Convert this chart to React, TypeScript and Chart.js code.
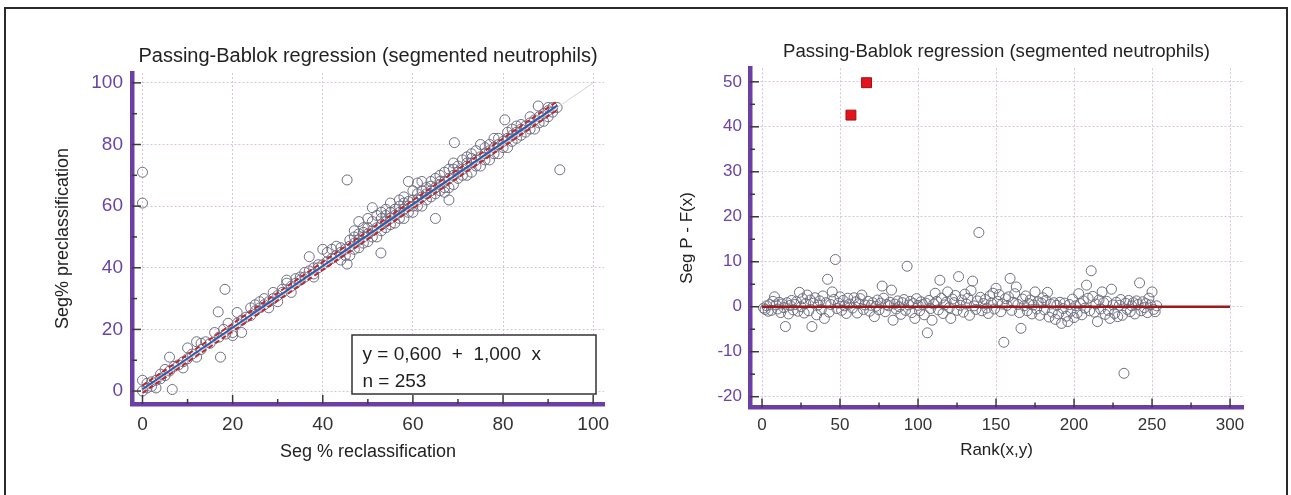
import React, { useEffect, useRef } from 'react';
import { Chart, registerables } from 'chart.js';

Chart.register(...registerables);

const FONT = "'Liberation Sans', Arial, Helvetica, sans-serif";
const PURPLE = '#6b3fa6';
const PURPLE_TEXT = '#6a44a8';
const GRID = '#d9c4d9';

const TITLE = 'Passing-Bablok regression (segmented neutrophils)';
const LEFT_X_TITLE = 'Seg % reclassification';
const LEFT_Y_TITLE = 'Seg% preclassification';
const RIGHT_X_TITLE = 'Rank(x,y)';
const RIGHT_Y_TITLE = 'Seg P - F(x)';
const EQ_LINES = ['y = 0,600  +  1,000  x', 'n = 253'];

// Left panel: reclassification (x) vs preclassification (y)
const segReclass = [
  0, 0, 0, 0, 1, 1, 2, 2, 3, 3,
  4, 4, 5, 5, 6, 6, 6.6, 7, 8, 9,
  9, 10, 10, 11, 12, 12, 13, 13, 14, 15,
  16, 16.8, 17.3, 17, 18.3, 18, 18.5, 19, 20, 20,
  21, 21, 22, 22, 23, 24, 24, 25, 25, 26,
  26, 27, 27, 28, 28, 29, 29, 30, 30, 31,
  31, 32, 32, 33, 33, 34, 34, 35, 35, 36,
  36, 37, 37, 38, 38, 38, 39, 39, 40, 40,
  41, 41, 42, 42, 43, 43, 44, 44, 45.4, 45,
  46, 45.4, 46, 47, 47, 47, 48, 48, 48, 49,
  49, 49, 50, 50, 50, 51, 51, 51, 52, 52,
  52, 52.9, 53, 53, 54, 54, 54, 55, 55, 55,
  56, 56, 57, 57, 57, 58, 58, 58, 59, 59,
  59, 60, 60, 60, 61, 61, 61, 62, 62, 62,
  63, 63, 64, 64, 64, 65, 65, 65, 66, 66,
  66, 67, 67, 67, 68, 68, 68, 69, 69, 69,
  70, 70, 69.2, 71, 71, 72, 72, 72, 73, 73,
  73, 74, 74, 75, 75, 75, 76, 76, 77, 77,
  78, 78, 79, 79, 80, 80.4, 81, 81, 82, 82,
  83, 83, 83, 84, 84, 85, 85, 86, 86, 87,
  87, 87.8, 88, 89, 89, 90, 90, 91, 92.6, 92, 91,
  44, 45, 46, 47, 48, 49, 50, 51,
  53, 53, 54, 55, 56, 57, 58, 59, 60,
  61, 62, 63, 64, 65, 66, 67, 68, 69, 70,
  71, 72, 73, 74, 76, 77, 78, 79, 80,
  81, 82, 84, 86, 88, 90,
];
const segPreclass = [
  0, 3.5, 61, 71, 1, 2.5, 1.5, 3, 3.5, 1,
  4, 5.5, 5, 7, 11, 6.5, 0.5, 8, 8.5, 9.5,
  7.5, 10.5, 14, 12, 16, 11, 13.5, 15.5, 16, 15.5,
  19, 25.7, 11, 17.5, 33, 20, 18.5, 22, 19, 18,
  25.5, 22, 23, 19, 24, 24.5, 27, 28, 26, 27,
  29, 28, 30, 29, 27, 30, 32, 31, 29, 33,
  32, 35, 36, 34, 32, 35, 36.5, 37, 36, 37,
  38.5, 43.6, 39, 38, 40, 37, 41, 40, 46, 41,
  42, 45, 43, 46, 44, 47, 45, 42.5, 68.5, 46,
  47, 41.2, 44, 48, 52, 50, 49, 55, 46.5, 50,
  53, 51.5, 51, 48.5, 56, 52, 55, 59.5, 53, 57,
  50, 44.8, 54, 58, 55, 53, 59, 56, 58, 61,
  57, 54.5, 58, 60, 62, 59, 56, 63, 60, 68,
  61.5, 62, 58, 65, 62, 64, 67.5, 63, 68, 60,
  64, 66, 65, 68, 63, 66, 56, 69, 67, 65,
  70, 68, 71, 66, 62, 69, 72, 70, 74, 67,
  71, 69, 80.6, 72, 75, 73, 70, 76, 74, 71,
  77, 75, 78, 76, 73, 80, 77, 79, 78, 75,
  79, 82, 80, 77, 81, 88, 82, 79, 83, 81,
  84, 86, 82, 85, 86.5, 86, 84, 87, 89, 88,
  85, 92.5, 89, 90, 87.5, 91, 92, 92, 71.8, 92, 90.5,
  46.5, 44, 49, 46, 51, 48, 53, 50,
  52, 56, 57, 54, 59, 56, 61, 58, 60,
  60, 65, 62, 66.5, 64, 68, 64.5, 66, 72, 73,
  70, 74, 75.5, 73, 75, 80, 77, 82, 79,
  84, 85, 83, 85, 87, 89,
];

// Regression line and confidence band (x from min to max of data)
const regX = [0, 92];
const regY = [0.6, 92.6];
const ciLowY = [-0.6, 91.2];
const ciHighY = [1.8, 94.0];
const identityX = [0, 100];
const identityY = [0, 100];

// Right panel: residuals by rank (rank = position + 1); null = plotted as outlier
const residuals = [
  -0.3, -0.6, 0.2, -1.0, 0.5, -0.8, 1.2, 2.2, 0.4, -0.5,
  1.0, -1.3, 0.6, -0.2, -4.4, 0.9, -1.6, 0.3, 1.4, -0.7,
  0.5, 1.1, -1.0, 3.2, 0.0, 1.8, -1.4, 0.7, 2.6, -0.9,
  1.5, -4.4, 0.8, 2.0, -1.8, 0.4, 1.3, -0.6, 2.4, -2.6,
  0.9, 6.1, -1.2, 0.5, 3.3, 1.6, 10.5, -0.4, 0.8, 2.2,
  -0.8, 1.4, 0.2, -1.5, 1.9, 0.6, null, -0.3, 2.0, 1.1,
  -1.4, 0.7, 1.8, 2.6, -0.6, 0.4, null, 1.2, -1.0, 0.3,
  0.9, -2.2, 0.1, 1.5, -0.7, 0.8, 4.6, 1.9, -1.1, 0.5,
  0.2, 1.0, 3.7, -3.0, 0.6, -0.5, 1.3, 0.0, -1.7, 0.9,
  1.6, -0.8, 9.0, 0.4, 1.2, -1.3, 0.7, -2.6, 1.8, 0.3,
  -0.9, 1.1, 0.5, -1.8, 0.8, -5.8, 1.4, -0.4, -3.0, 0.6,
  3.0, 1.2, -0.7, 5.9, 1.9, -1.5, 0.4, 1.0, 3.3, -0.2,
  -2.6, 1.7, 0.9, 2.5, -0.8, 6.7, 0.3, 1.5, -1.2, 2.8,
  0.6, 1.9, -1.9, 3.6, 5.7, 0.2, -0.6, 1.3, 16.5, 2.1,
  -0.9, 0.7, 1.6, -0.3, -1.5, 2.4, 0.8, 3.0, -0.5, 4.1,
  1.2, 2.7, -1.1, 0.6, -7.9, 1.8, 0.3, 2.2, 6.3, -0.8,
  1.0, 2.9, 4.4, 0.5, -1.3, -4.8, 1.7, 0.2, 2.4, -0.9,
  0.7, 1.5, -1.6, 0.4, 3.3, -0.5, 1.1, -1.9, 0.8, 2.0,
  -0.7, 1.4, 3.2, -2.3, 0.6, -1.2, 0.9, -2.8, 0.3, -1.6,
  1.0, -3.7, -0.4, 0.8, -2.1, -3.3, 0.5, -1.0, 1.7, -2.4,
  0.2, -1.4, 2.9, 0.7, -1.8, 1.3, -0.3, 4.8, 1.9, -0.9,
  8.0, 2.3, -1.2, 0.6, -3.3, 1.5, -0.5, 3.3, 0.9, -1.7,
  1.2, -0.8, -2.6, 3.9, 0.4, -1.5, 1.0, -2.2, 0.3, 1.6,
  -1.9, -14.8, 0.8, -0.6, 1.4, -1.1, 0.2, 0.9, -1.6, 1.3,
  0.5, 5.3, -0.9, 1.1, -0.2, 0.7, -1.3, 1.9, 0.4, 3.3,
  -0.6, -1.1, 0.2,
];
const outlierRanks = [57, 67];
const outlierValues = [42.6, 49.8];
const zeroLineX = [0, 300];
const zeroLineY = [0, 0];

const zip = (xs: number[], ys: (number | null)[]) =>
  xs.map((x, i) => ({ x, y: ys[i] as number }));

const inwardTicks = {
  id: 'inwardTicks',
  afterDatasetsDraw(chart: any) {
    const { ctx, chartArea: a, scales } = chart;
    ctx.save();
    ctx.strokeStyle = '#3a3a3a';
    ctx.lineWidth = 1.5;
    const line = (x1: number, y1: number, x2: number, y2: number) => {
      ctx.beginPath();
      ctx.moveTo(x1, y1);
      ctx.lineTo(x2, y2);
      ctx.stroke();
    };
    (['x', 'y'] as const).forEach((id) => {
      const s = scales[id];
      const vals = s.ticks.map((t: any) => t.value);
      const step = vals.length > 1 ? vals[1] - vals[0] : 0;
      vals.forEach((v: number) => {
        const marks: [number, number][] = [[v, 9]];
        if (step && v + step / 2 <= s.max) marks.push([v + step / 2, 5]);
        marks.forEach(([val, len]) => {
          const p = s.getPixelForValue(val);
          if (id === 'x') line(p, a.bottom, p, a.bottom - len);
          else line(a.left, p, a.left + len, p);
        });
      });
    });
    ctx.restore();
  },
};

const eqBox = {
  id: 'eqBox',
  afterDatasetsDraw(chart: any) {
    const { ctx, chartArea } = chart;
    const right = chartArea.right - 8;
    const bottom = chartArea.bottom - 10;
    const w = 244;
    const h = 59;
    ctx.save();
    ctx.fillStyle = '#ffffff';
    ctx.fillRect(right - w, bottom - h, w, h);
    ctx.strokeStyle = '#333333';
    ctx.lineWidth = 1.5;
    ctx.strokeRect(right - w, bottom - h, w, h);
    ctx.fillStyle = '#1e1e1e';
    ctx.font = `19px ${FONT}`;
    ctx.textAlign = 'left';
    ctx.textBaseline = 'alphabetic';
    ctx.fillText(EQ_LINES[0], right - w + 10.5, bottom - 34);
    ctx.fillText(EQ_LINES[1], right - w + 10.5, bottom - 7);
    ctx.restore();
  },
};

const axisCommon = (opts: any) => ({
  type: 'linear',
  min: opts.min,
  max: opts.max,
  afterFit: opts.afterFit,
  ticks: {
    stepSize: opts.step,
    includeBounds: false,
    padding: opts.tickPad,
    color: opts.tickColor,
    font: { family: FONT, size: opts.tickSize },
  },
  grid: { color: GRID, lineWidth: 1, drawTicks: false },
  border: { display: true, color: PURPLE, width: 4.5, dash: [2, 2] },
  title: {
    display: true,
    text: opts.title,
    color: '#222222',
    font: { family: FONT, size: opts.titleSize },
    padding: opts.titlePad,
  },
});

function LeftChart() {
  const ref = useRef<HTMLCanvasElement>(null);
  useEffect(() => {
    const chart = new Chart(ref.current as HTMLCanvasElement, {
      type: 'scatter',
      data: {
        datasets: [
          {
            data: zip(regX, ciHighY),
            showLine: true,
            borderColor: '#c0262d',
            borderWidth: 2,
            borderDash: [5, 3],
            pointRadius: 0,
          },
          {
            data: zip(regX, ciLowY),
            showLine: true,
            borderColor: '#c0262d',
            borderWidth: 2,
            borderDash: [5, 3],
            pointRadius: 0,
          },
          {
            data: zip(regX, regY),
            showLine: true,
            borderColor: '#2a5db0',
            borderWidth: 2,
            pointRadius: 0,
          },
          {
            data: zip(identityX, identityY),
            showLine: true,
            borderColor: '#d4d4d4',
            borderWidth: 1,
            pointRadius: 0,
          },
          {
            data: zip(segReclass, segPreclass),
            pointRadius: 5,
            pointBorderWidth: 1,
            pointBorderColor: '#6e6e84',
            pointBackgroundColor: 'rgba(255,255,255,0)',
          },
        ],
      } as any,
      options: {
        responsive: false,
        animation: false,
        layout: { padding: { top: 44, right: 41, left: 0, bottom: 0 } },
        plugins: {
          legend: { display: false },
          tooltip: { enabled: false },
          title: {
            display: true,
            text: TITLE,
            fullSize: false,
            color: '#222222',
            font: { family: FONT, size: 20, weight: 'normal' },
            padding: { top: 0, bottom: 5 },
          },
        },
        scales: {
          x: axisCommon({
            min: -2.33,
            max: 102.4,
            step: 20,
            tickPad: 9,
            tickColor: '#333333',
            tickSize: 19,
            title: LEFT_X_TITLE,
            titleSize: 18,
            titlePad: { top: 0, bottom: 32 },
            afterFit: (s: any) => {
              s.height = 91;
            },
          }),
          y: axisCommon({
            min: -4.2,
            max: 103.2,
            step: 20,
            tickPad: 9,
            tickColor: PURPLE_TEXT,
            tickSize: 19,
            title: LEFT_Y_TITLE,
            titleSize: 18,
            titlePad: { top: 52, bottom: 0 },
            afterFit: (s: any) => {
              s.width = 132;
            },
          }),
        },
      } as any,
      plugins: [eqBox, inwardTicks],
    });
    return () => chart.destroy();
  }, []);
  return (
    <canvas
      ref={ref}
      width={645}
      height={495}
      style={{ position: 'absolute', left: 0, top: 0, width: 645, height: 495 }}
    />
  );
}

function RightChart() {
  const ref = useRef<HTMLCanvasElement>(null);
  useEffect(() => {
    const residualPoints = residuals
      .map((v, i) => ({ x: i + 1, y: v }))
      .filter((p) => p.y !== null) as { x: number; y: number }[];
    const chart = new Chart(ref.current as HTMLCanvasElement, {
      type: 'scatter',
      data: {
        datasets: [
          {
            data: zip(outlierRanks, outlierValues),
            pointStyle: 'rect',
            pointRadius: 7,
            pointBorderWidth: 1,
            pointBorderColor: '#a01010',
            pointBackgroundColor: '#e3121c',
          },
          {
            data: zip(zeroLineX, zeroLineY),
            showLine: true,
            borderColor: '#9b1b1b',
            borderWidth: 2.5,
            pointRadius: 0,
          },
          {
            data: residualPoints,
            pointRadius: 5,
            pointBorderWidth: 1,
            pointBorderColor: '#6e6e84',
            pointBackgroundColor: 'rgba(255,255,255,0)',
          },
        ],
      } as any,
      options: {
        responsive: false,
        animation: false,
        layout: { padding: { top: 41, right: 48, left: 0, bottom: 0 } },
        plugins: {
          legend: { display: false },
          tooltip: { enabled: false },
          title: {
            display: true,
            text: TITLE,
            fullSize: false,
            color: '#222222',
            font: { family: FONT, size: 18.6, weight: 'normal' },
            padding: { top: 0, bottom: 5 },
          },
        },
        scales: {
          x: axisCommon({
            min: -7.7,
            max: 308.3,
            step: 50,
            tickPad: 7.5,
            tickColor: '#333333',
            tickSize: 17,
            title: RIGHT_X_TITLE,
            titleSize: 17,
            titlePad: { top: 0, bottom: 34.8 },
            afterFit: (s: any) => {
              s.height = 87.5;
            },
          }),
          y: axisCommon({
            min: -22.4,
            max: 53.0,
            step: 10,
            tickPad: 8,
            tickColor: PURPLE_TEXT,
            tickSize: 17,
            title: RIGHT_Y_TITLE,
            titleSize: 17,
            titlePad: { top: 31.8, bottom: 0 },
            afterFit: (s: any) => {
              s.width = 105;
            },
          }),
        },
      } as any,
      plugins: [inwardTicks],
    });
    return () => chart.destroy();
  }, []);
  return (
    <canvas
      ref={ref}
      width={646}
      height={495}
      style={{ position: 'absolute', left: 645, top: 0, width: 646, height: 495 }}
    />
  );
}

export default function App() {
  return (
    <div
      style={{
        position: 'fixed',
        left: 0,
        top: 0,
        width: 1291,
        height: 495,
        overflow: 'hidden',
        background: '#ffffff',
      }}
    >
      <div
        style={{
          position: 'absolute',
          left: 4,
          top: 7,
          width: 1280,
          height: 520,
          border: '2px solid #2a2a2a',
          borderBottom: 'none',
        }}
      />
      <LeftChart />
      <RightChart />
    </div>
  );
}
